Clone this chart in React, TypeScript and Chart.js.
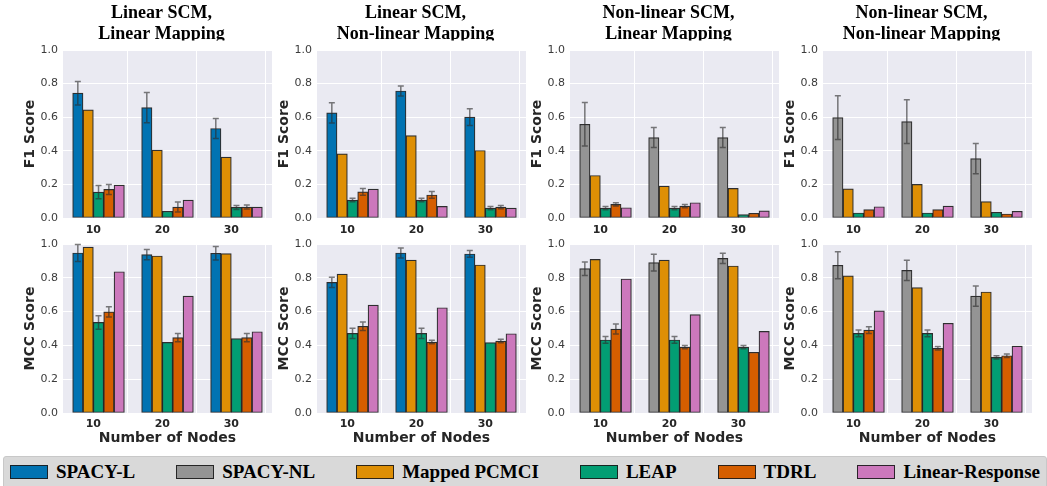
import React, { useEffect, useRef } from 'react';
import { Chart, registerables } from 'chart.js';

Chart.register(...registerables);

// ---------- data ----------
const nodeCounts = [10, 20, 30];
const yTickValues = [0, 0.2, 0.4, 0.6, 0.8, 1.0];
const legendLabels = ['SPACY-L', 'SPACY-NL', 'Mapped PCMCI', 'LEAP', 'TDRL', 'Linear-Response'];
const methodColors = ['#0173B2', '#949494', '#DE8F05', '#029E73', '#D55E00', '#CC78BC'];

const columnTitles = [
  ['Linear SCM,', 'Linear Mapping'],
  ['Linear SCM,', 'Non-linear Mapping'],
  ['Non-linear SCM,', 'Linear Mapping'],
  ['Non-linear SCM,', 'Non-linear Mapping'],
];
// indexes into legendLabels, per column
const methodsLinearSCM = [0, 2, 3, 4, 5];
const methodsNonlinearSCM = [1, 2, 3, 4, 5];

// rows: SPACY, Mapped PCMCI, LEAP, TDRL, Linear-Response ; cols: 10, 20, 30 nodes
const f1LinLin = [[0.743, 0.657, 0.533], [0.644, 0.404, 0.362], [0.154, 0.04, 0.063], [0.17, 0.065, 0.065], [0.196, 0.107, 0.065]];
const f1LinLinErr = [[0.07, 0.09, 0.06], [0, 0, 0], [0.04, 0, 0.012], [0.03, 0.03, 0.012], [0, 0, 0]];
const f1LinNon = [[0.626, 0.756, 0.6], [0.382, 0.491, 0.402], [0.107, 0.107, 0.059], [0.156, 0.137, 0.065], [0.172, 0.069, 0.059]];
const f1LinNonErr = [[0.06, 0.03, 0.05], [0, 0, 0], [0.01, 0.01, 0.01], [0.02, 0.02, 0.01], [0, 0, 0]];
const f1NonLin = [[0.558, 0.479, 0.479], [0.253, 0.19, 0.176], [0.059, 0.059, 0.02], [0.081, 0.071, 0.028], [0.061, 0.091, 0.042]];
const f1NonLinErr = [[0.13, 0.06, 0.06], [0, 0, 0], [0.01, 0.01, 0], [0.01, 0.01, 0], [0, 0, 0]];
const f1NonNon = [[0.598, 0.574, 0.354], [0.174, 0.2, 0.097], [0.03, 0.03, 0.034], [0.05, 0.05, 0.024], [0.067, 0.071, 0.04]];
const f1NonNonErr = [[0.13, 0.13, 0.09], [0, 0, 0], [0, 0, 0], [0, 0, 0], [0, 0, 0]];

const mccLinLin = [[0.947, 0.937, 0.945], [0.982, 0.929, 0.943], [0.536, 0.418, 0.44], [0.598, 0.446, 0.446], [0.836, 0.692, 0.481]];
const mccLinLinErr = [[0.05, 0.03, 0.04], [0, 0, 0], [0.04, 0, 0], [0.03, 0.025, 0.025], [0, 0, 0]];
const mccLinNon = [[0.773, 0.947, 0.941], [0.822, 0.905, 0.876], [0.471, 0.471, 0.416], [0.513, 0.42, 0.426], [0.639, 0.623, 0.469]];
const mccLinNonErr = [[0.03, 0.03, 0.02], [0, 0, 0], [0.03, 0.03, 0], [0.025, 0.01, 0.01], [0, 0, 0]];
const mccNonLin = [[0.854, 0.89, 0.915], [0.909, 0.905, 0.87], [0.432, 0.432, 0.39], [0.497, 0.39, 0.359], [0.793, 0.582, 0.483]];
const mccNonLinErr = [[0.04, 0.05, 0.03], [0, 0, 0], [0.02, 0.02, 0.01], [0.03, 0.01, 0], [0, 0, 0]];
const mccNonNon = [[0.874, 0.844, 0.692], [0.811, 0.742, 0.716], [0.471, 0.471, 0.329], [0.491, 0.383, 0.339], [0.604, 0.531, 0.396]];
const mccNonNonErr = [[0.08, 0.06, 0.06], [0, 0, 0], [0.02, 0.02, 0.01], [0.02, 0.01, 0.01], [0, 0, 0]];

// ---------- layout ----------
const PLOT_W = 209;
const Y_AXIS_W = 63;
const COL_LEFT = [0, 254, 507, 760];
const BAR_UNIT = 1.5; // bar width in x data units (group spacing 10)
const X_MIN = 5.6;
const X_MAX = 35.9;

type PanelProps = {
  row: number;
  col: number;
  values: number[][];
  errs: number[][];
  methods: number[];
  yLabel: string;
};

const Panel: React.FC<PanelProps> = ({ row, col, values, errs, methods, yLabel }) => {
  const ref = useRef<HTMLCanvasElement | null>(null);
  const width = Y_AXIS_W + PLOT_W;
  const top = row === 0 ? 0 : 230;
  const height = row === 0 ? 240 : 256;

  useEffect(() => {
    if (!ref.current) return;
    const padTop = row === 0 ? 50 : 14;
    const plotH = row === 0 ? 168 : 169;
    const xAxisH = height - padTop - plotH;

    const bgPlugin = {
      id: 'plotBg',
      beforeDraw(chart: any) {
        const { ctx, chartArea } = chart;
        ctx.save();
        ctx.fillStyle = '#EAEAF2';
        ctx.fillRect(chartArea.left, chartArea.top, chartArea.right - chartArea.left, chartArea.bottom - chartArea.top);
        ctx.restore();
      },
    };

    const errPlugin = {
      id: 'errBars',
      afterDatasetsDraw(chart: any) {
        const { ctx } = chart;
        const yScale = chart.scales.y;
        ctx.save();
        ctx.strokeStyle = 'rgba(45,45,45,0.62)';
        ctx.lineWidth = 1.5;
        values.forEach((vals, i) => {
          const meta = chart.getDatasetMeta(i);
          vals.forEach((v, j) => {
            const e = errs[i][j];
            if (!e) return;
            const x = meta.data[j].x;
            const y1 = yScale.getPixelForValue(v - e);
            const y2 = yScale.getPixelForValue(v + e);
            ctx.beginPath();
            ctx.moveTo(x, y1);
            ctx.lineTo(x, y2);
            ctx.moveTo(x - 3, y1);
            ctx.lineTo(x + 3, y1);
            ctx.moveTo(x - 3, y2);
            ctx.lineTo(x + 3, y2);
            ctx.stroke();
          });
        });
        ctx.restore();
      },
    };

    const titlePlugin = {
      id: 'panelTitle',
      afterDraw(chart: any) {
        if (row !== 0) return;
        const { ctx, chartArea } = chart;
        const cx = (chartArea.left + chartArea.right) / 2 - 6;
        ctx.save();
        ctx.beginPath();
        ctx.rect(0, 0, chart.width, 40.5);
        ctx.clip();
        ctx.fillStyle = '#000';
        ctx.font = 'bold 18px "Liberation Serif"';
        ctx.textAlign = 'center';
        ctx.textBaseline = 'alphabetic';
        ctx.fillText(columnTitles[col][0], cx, 17.5);
        ctx.fillText(columnTitles[col][1], cx, 38.5);
        ctx.restore();
      },
    };

    const datasets = values.map((vals, k) => ({
      label: legendLabels[methods[k]],
      data: vals.map((v, j) => ({ x: nodeCounts[j] + (k - 1.5) * BAR_UNIT, y: v })),
      backgroundColor: methodColors[methods[k]],
      borderColor: 'rgba(25,25,25,0.9)',
      borderWidth: 1.2,
      borderSkipped: false,
      grouped: false,
      barPercentage: 1,
      categoryPercentage: 1,
    }));

    const chart = new Chart(ref.current, {
      type: 'bar',
      data: { datasets } as any,
      plugins: [bgPlugin, errPlugin, titlePlugin],
      options: {
        animation: false,
        responsive: false,
        devicePixelRatio: 1,
        layout: { padding: { top: padTop, bottom: 0, left: 0, right: 0 } },
        plugins: { legend: { display: false }, tooltip: { enabled: false }, title: { display: false } },
        scales: {
          x: {
            type: 'linear',
            min: X_MIN,
            max: X_MAX,
            offset: false,
            afterBuildTicks: (s: any) => {
              s.ticks = nodeCounts.map((v) => ({ value: v }));
            },
            afterFit: (s: any) => {
              s.height = xAxisH;
            },
            grid: { color: '#ffffff', lineWidth: 1, drawTicks: false },
            border: { display: false },
            ticks: {
              padding: row === 0 ? 5.5 : 4.5,
              autoSkip: false,
              maxRotation: 0,
              color: '#262626',
              font: { family: 'DejaVu Sans', size: 11, weight: 'bold' },
              callback: (v: any) => String(v),
            },
            title: {
              display: row === 1,
              text: 'Number of Nodes',
              color: '#262626',
              font: { family: 'DejaVu Sans', size: 14, weight: 'bold' },
              padding: { top: 0, bottom: 39.6 },
            },
          },
          y: {
            min: 0,
            max: 1,
            afterBuildTicks: (s: any) => {
              s.ticks = yTickValues.map((v) => ({ value: v }));
            },
            afterFit: (s: any) => {
              s.width = Y_AXIS_W;
            },
            grid: { color: '#ffffff', lineWidth: 1, drawTicks: false },
            border: { display: false },
            ticks: {
              padding: 5,
              color: '#3b3b3b',
              font: { family: 'DejaVu Sans', size: 11 },
              callback: (v: any) => Number(v).toFixed(1),
            },
            title: {
              display: true,
              text: yLabel,
              color: '#262626',
              font: { family: 'DejaVu Sans', size: 14, weight: 'bold' },
              padding: { top: 21.6, bottom: 0 },
            },
          },
        },
      } as any,
    });
    return () => chart.destroy();
  }, [row, col, values, errs, methods, yLabel, height]);

  return (
    <canvas
      ref={ref}
      width={width}
      height={height}
      style={{ position: 'absolute', left: COL_LEFT[col], top, width, height }}
    />
  );
};

const f1Panels = [
  [f1LinLin, f1LinLinErr],
  [f1LinNon, f1LinNonErr],
  [f1NonLin, f1NonLinErr],
  [f1NonNon, f1NonNonErr],
];
const mccPanels = [
  [mccLinLin, mccLinLinErr],
  [mccLinNon, mccLinNonErr],
  [mccNonLin, mccNonLinErr],
  [mccNonNon, mccNonNonErr],
];
const columnMethods = [methodsLinearSCM, methodsLinearSCM, methodsNonlinearSCM, methodsNonlinearSCM];

export default function App() {
  return (
    <div style={{ position: 'absolute', left: 0, top: 0, width: 1047, height: 486, overflow: 'hidden', background: '#fff' }}>
      {f1Panels.map(([v, e], c) => (
        <Panel key={'f1' + c} row={0} col={c} values={v} errs={e} methods={columnMethods[c]} yLabel="F1 Score" />
      ))}
      {mccPanels.map(([v, e], c) => (
        <Panel key={'mcc' + c} row={1} col={c} values={v} errs={e} methods={columnMethods[c]} yLabel="MCC Score" />
      ))}
      <div
        style={{
          position: 'absolute',
          left: 3,
          top: 456,
          width: 1044,
          height: 36,
          boxSizing: 'border-box',
          background: '#d9d9d9',
          border: '1px solid #c8c8c8',
          borderRadius: 3,
          display: 'flex',
          alignItems: 'flex-start',
          justifyContent: 'space-between',
          padding: '5px 6px 0 6px',
          fontFamily: '"Liberation Serif", serif',
          fontWeight: 'bold',
          fontSize: 19,
          color: '#000',
        }}
      >
        {legendLabels.map((lab, i) => (
          <div key={lab} style={{ display: 'flex', alignItems: 'center', height: 20, whiteSpace: 'nowrap' }}>
            <span
              style={{
                display: 'inline-block',
                width: 38,
                height: 14,
                boxSizing: 'border-box',
                background: methodColors[i],
                border: '1.3px solid rgba(25,25,25,0.9)',
                marginRight: 8,
              }}
            />
            <span style={{ lineHeight: '20px' }}>{lab}</span>
          </div>
        ))}
      </div>
    </div>
  );
}
